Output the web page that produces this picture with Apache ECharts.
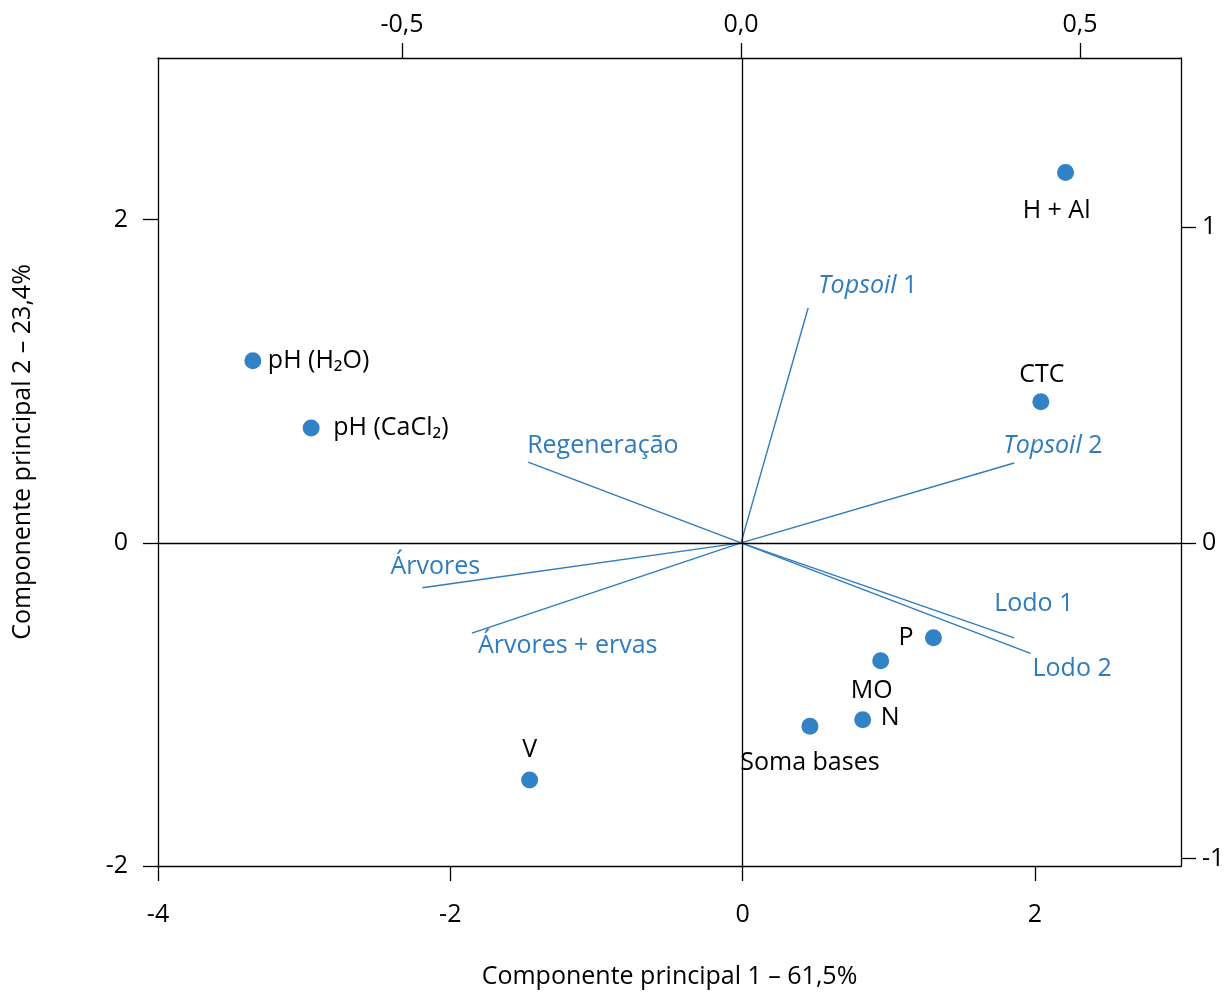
<!DOCTYPE html>
<html><head><meta charset="utf-8">
<script src="https://cdn.jsdelivr.net/npm/echarts@6/dist/echarts.min.js"></script>
<style>html,body{margin:0;padding:0;background:#fff;overflow:hidden}#c{width:1229px;height:994px}</style>
</head><body><div id="c"></div>
<script>
// ---- data ----
const pointNames = ['H + Al', 'CTC', 'pH (H₂O)', 'pH (CaCl₂)', 'P', 'MO', 'N', 'Soma bases', 'V'];
const pointPC1 = [2.210, 2.041, -3.351, -2.952, 1.306, 0.945, 0.822, 0.461, -1.457];
const pointPC2 = [2.291, 0.873, 1.127, 0.710, -0.587, -0.730, -1.095, -1.135, -1.468];

const vectorNames = ['Topsoil 1', 'Topsoil 2', 'Regeneração', 'Árvores', 'Árvores + ervas', 'Lodo 1', 'Lodo 2'];
const vectorPC1 = [0.099, 0.403, -0.314, -0.470, -0.397, 0.403, 0.427];
const vectorPC2 = [0.744, 0.253, 0.256, -0.142, -0.286, -0.301, -0.350];

const bottomTicks = [-4, -2, 0, 2];
const leftTicks = [-2, 0, 2];
const topTicks = [-0.5, 0, 0.5];
const rightTicks = [-1, 0, 1];

const xTitle = 'Componente principal 1 – 61,5%';
const yTitle = 'Componente principal 2 – 23,4%';

// ---- styles ----
const FONT = 'Open Sans';
const FS = 25;
const BLUE_PT = '#3182C6';
const BLUE_LN = '#2E7BC0';
const pointLabelStyle = {
  'H + Al':     { align: 'center', offset: [-9, 38] },
  'CTC':        { align: 'center', offset: [1, -27] },
  'pH (H₂O)':   { align: 'left',   offset: [15, 0] },
  'pH (CaCl₂)': { align: 'left',   offset: [22, 0] },
  'P':          { align: 'right',  offset: [-20, 0] },
  'MO':         { align: 'center', offset: [-9, 30] },
  'N':          { align: 'left',   offset: [18, -2] },
  'Soma bases': { align: 'center', offset: [0, 37] },
  'V':          { align: 'center', offset: [0, -30] }
};
const vectorLabelStyle = {
  'Topsoil 1':       { offset: [10, -22] },
  'Topsoil 2':       { offset: [-11, -17] },
  'Regeneração':     { offset: [-1, -16] },
  'Árvores':         { offset: [-32, -21] },
  'Árvores + ervas': { offset: [6, 13] },
  'Lodo 1':          { offset: [-20, -34] },
  'Lodo 2':          { offset: [2, 16] }
};

const axisCommon = {
  type: 'value',
  axisLine: { show: true, onZero: false, lineStyle: { color: '#000', width: 1.3 } },
  axisTick: { show: true, inside: false, length: 15, lineStyle: { color: '#000', width: 1.3 } },
  splitLine: { show: false },
  axisLabel: { color: '#000', fontFamily: FONT, fontSize: FS },
  nameTextStyle: { color: '#000', fontFamily: FONT, fontSize: FS }
};
function ax(extra) {
  const o = JSON.parse(JSON.stringify(axisCommon));
  for (const k in extra) {
    if (typeof extra[k] === 'object' && !Array.isArray(extra[k]) && o[k]) Object.assign(o[k], extra[k]);
    else o[k] = extra[k];
  }
  return o;
}
const commaFmt = v => v.toFixed(1).replace('.', ',');

const xAxes = [
  ax({ position: 'bottom', min: -4, max: 3, name: xTitle, nameLocation: 'middle', nameGap: 98,
       axisTick: { customValues: bottomTicks }, axisLabel: { customValues: bottomTicks, margin: 36 } }),
  ax({ position: 'top', min: -0.86, max: 0.649,
       axisTick: { customValues: topTicks }, axisLabel: { customValues: topTicks, margin: 21, formatter: commaFmt } })
];
const yAxes = [
  ax({ position: 'left', min: -2, max: 3, name: yTitle, nameLocation: 'middle', nameGap: 123, nameRotate: 90,
       nameTextStyle: { padding: [0, 0, 0, 20] },
       axisTick: { customValues: leftTicks }, axisLabel: { customValues: leftTicks, margin: 30 } }),
  ax({ position: 'right', min: -1.0236, max: 1.536,
       axisTick: { customValues: rightTicks }, axisLabel: { customValues: rightTicks, margin: 21 } })
];

const series = [];
// zero lines
series.push({
  type: 'scatter', xAxisIndex: 0, yAxisIndex: 0, data: [], silent: true,
  markLine: { silent: true, symbol: 'none', animation: false, label: { show: false },
    lineStyle: { color: '#000', width: 1.3, type: 'solid' },
    data: [{ xAxis: 0 }, { yAxis: 0 }] }
});
// vectors
vectorNames.forEach((n, i) => {
  series.push({
    type: 'line', xAxisIndex: 1, yAxisIndex: 1, showSymbol: false, symbol: 'none',
    lineStyle: { color: BLUE_LN, width: 1.4 }, silent: true,
    data: [[0, 0], [vectorPC1[i], vectorPC2[i]]]
  });
});
series.push({
  type: 'scatter', xAxisIndex: 1, yAxisIndex: 1, symbolSize: 0, itemStyle: { color: BLUE_LN, opacity: 1 },
  data: vectorNames.map((n, i) => ({
    name: n, value: [vectorPC1[i], vectorPC2[i]],
    label: { show: true, position: 'inside', align: 'left', verticalAlign: 'middle',
      offset: vectorLabelStyle[n].offset, color: BLUE_LN, fontFamily: FONT, fontSize: FS,
      textBorderWidth: 0,
      formatter: () => n.startsWith('Topsoil') ? '{i|Topsoil}' + n.slice(7) : n,
      rich: { i: { fontStyle: 'italic', color: BLUE_LN, fontFamily: FONT, fontSize: FS, textBorderWidth: 0 } } }
  }))
});
// points
series.push({
  type: 'scatter', xAxisIndex: 0, yAxisIndex: 0, symbolSize: 17, itemStyle: { color: BLUE_PT, opacity: 1 },
  data: pointNames.map((n, i) => ({
    name: n, value: [pointPC1[i], pointPC2[i]],
    label: { show: true, position: 'inside', align: pointLabelStyle[n].align, verticalAlign: 'middle',
      offset: pointLabelStyle[n].offset, color: '#000', fontFamily: FONT, fontSize: FS, formatter: n }
  }))
});

const chart = echarts.init(document.getElementById('c'), null, { renderer: 'canvas' });
chart.setOption({
  animation: false,
  backgroundColor: '#fff',
  grid: { left: 158, right: 48, top: 58, bottom: 122, containLabel: false },
  xAxis: xAxes,
  yAxis: yAxes,
  series: series
});
</script>
</body></html>
